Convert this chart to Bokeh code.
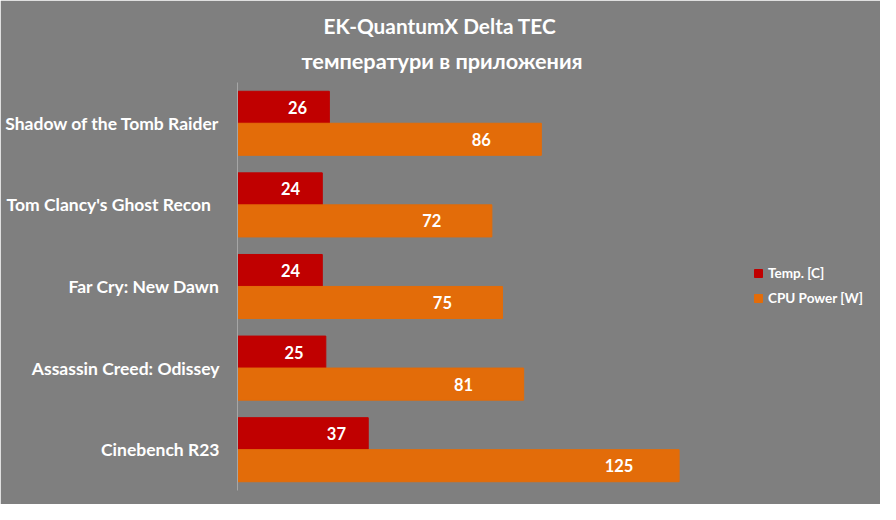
from bokeh.plotting import figure
from bokeh.models import ColumnDataSource, FactorRange, Range1d, Legend, LegendItem, Title
from bokeh.transform import dodge
from bokeh.core.properties import value
from bokeh.embed import file_html
from bokeh.resources import INLINE

categories = ["Shadow of the Tomb Raider", "Tom Clancy's  Ghost  Recon", "Far Cry: New Dawn",
              "Assassin Creed: Odissey", "Cinebench R23"]
temp = [26, 24, 24, 25, 37]
power = [86, 72, 75, 81, 125]
series_names = ["Temp. [C]", "CPU Power [W]"]
title_lines = ["EK-QuantumX Delta TEC", "температури в приложения"]

BG = "#7f7f7f"
RED = "#c00000"
ORANGE = "#e36c09"
FONT = "Lato"

src = ColumnDataSource(dict(
    cat=categories, temp=temp, power=power,
    tl=[str(v) for v in temp], pl=[str(v) for v in power],
    tx=[v - 9 for v in temp], px=[v - 17 for v in power],
))

p = figure(width=880, height=504, y_range=FactorRange(factors=categories[::-1]),
           x_range=Range1d(0, 182.0), output_backend="svg", toolbar_location=None,
           x_axis_location=None, background_fill_color=BG, border_fill_color=BG,
           min_border_left=237, min_border_right=0, min_border_top=82, min_border_bottom=14)
p.outline_line_color = BG
p.outline_line_width = 3
p.xgrid.grid_line_color = None
p.ygrid.grid_line_color = None

p.title.text = title_lines[0]
p.title.align = "left"
p.title.offset = 86
p.title.text_font = FONT
p.title.text_font_size = "20.8px"
p.title.text_font_style = "bold"
p.title.text_color = "white"
p.title.standoff = 0
t2 = Title(text=title_lines[1], align="left", offset=64, text_font=FONT,
           text_font_size="21.7px", text_font_style="bold", text_color="white", standoff=17)
p.add_layout(t2, "above")

r1 = p.hbar(y=dodge("cat", 0.196, range=p.y_range), left=0, right="temp", height=0.393,
            color=RED, source=src)
r2 = p.hbar(y=dodge("cat", -0.196, range=p.y_range), left=0, right="power", height=0.393,
            color=ORANGE, source=src)

for xcol, lcol, d in (("tx", "tl", 0.196), ("px", "pl", -0.196)):
    p.text(x=xcol, y=dodge("cat", d, range=p.y_range), text=lcol, source=src,
           text_align="center", text_baseline="middle", text_color="white",
           text_font=value(FONT), text_font_size="16.5px", text_font_style="bold")

ax = p.yaxis[0]
ax.axis_line_color = "#a6a6a6"
ax.major_tick_line_color = None
ax.minor_tick_line_color = None
ax.major_label_standoff = 12
ax.major_label_text_color = "white"
ax.major_label_text_font = FONT
ax.major_label_text_font_size = "17.5px"
ax.major_label_text_font_style = "bold"

legend = Legend(items=[LegendItem(label=series_names[0], renderers=[r1]),
                       LegendItem(label=series_names[1], renderers=[r2])],
                location=(516, 182), glyph_width=10, glyph_height=10, label_height=20,
                spacing=5, padding=0, margin=0, label_standoff=5,
                label_text_color="white", label_text_font=FONT, label_text_font_size="13.5px",
                label_text_font_style="bold", background_fill_alpha=0, border_line_alpha=0)
p.add_layout(legend)

open("out.html", "w").write(file_html(p, INLINE))
